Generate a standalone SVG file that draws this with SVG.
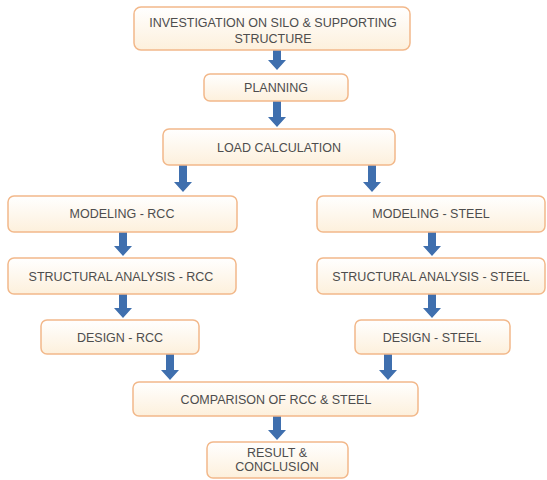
<svg xmlns="http://www.w3.org/2000/svg" width="547" height="480" viewBox="0 0 547 480">
<defs>
<linearGradient id="bg" x1="0" y1="0" x2="0" y2="1">
<stop offset="0" stop-color="#ffffff"/>
<stop offset="1" stop-color="#fdf0dc"/>
</linearGradient>
<style>
.box{fill:url(#bg);stroke:#f2b88a;stroke-width:1.5}
.t{font-family:"Liberation Sans",Arial,sans-serif;font-size:12.5px;fill:#4d4d4d;text-anchor:middle}
.arr{fill:#3f6fae}
</style>
</defs>
<rect width="547" height="480" fill="#ffffff"/>
<g id="connectors">
<path class="arr" d="M273,50 h8 v10 h5 l-9,10 l-9,-10 h5 z"/>
<path class="arr" d="M273,101 h8 v16 h5 l-9,10 l-9,-10 h5 z"/>
<path class="arr" d="M179,165 h8 v17 h5 l-9,10 l-9,-10 h5 z"/>
<path class="arr" d="M368,165 h8 v17 h5 l-9,10 l-9,-10 h5 z"/>
<path class="arr" d="M119,232 h8 v14 h5 l-9,10 l-9,-10 h5 z"/>
<path class="arr" d="M428,232 h8 v14 h5 l-9,10 l-9,-10 h5 z"/>
<path class="arr" d="M119,294 h8 v14 h5 l-9,10 l-9,-10 h5 z"/>
<path class="arr" d="M428,294 h8 v14 h5 l-9,10 l-9,-10 h5 z"/>
<path class="arr" d="M166,354 h8 v16 h5 l-9,10 l-9,-10 h5 z"/>
<path class="arr" d="M384,354 h8 v16 h5 l-9,10 l-9,-10 h5 z"/>
<path class="arr" d="M273,416 h8 v14 h5 l-9,10 l-9,-10 h5 z"/>
</g>
<g id="n1"><rect class="box" x="134" y="7" width="276" height="43" rx="7"/><text class="t" x="273" y="27">INVESTIGATION ON SILO &amp; SUPPORTING</text><text class="t" x="273" y="43">STRUCTURE</text></g>
<g id="n2"><rect class="box" x="204" y="74" width="144" height="27" rx="6"/><text class="t" x="276" y="92">PLANNING</text></g>
<g id="n3"><rect class="box" x="163" y="129" width="232" height="36" rx="6"/><text class="t" x="279" y="152">LOAD CALCULATION</text></g>
<g id="n4"><rect class="box" x="8" y="196" width="229" height="36" rx="6"/><text class="t" x="122" y="218">MODELING - RCC</text></g>
<g id="n5"><rect class="box" x="317" y="196" width="228" height="36" rx="6"/><text class="t" x="431" y="218">MODELING - STEEL</text></g>
<g id="n6"><rect class="box" x="8" y="258" width="228" height="36" rx="6"/><text class="t" x="121" y="281">STRUCTURAL ANALYSIS - RCC</text></g>
<g id="n7"><rect class="box" x="317" y="258" width="228" height="36" rx="6"/><text class="t" x="431" y="281">STRUCTURAL ANALYSIS - STEEL</text></g>
<g id="n8"><rect class="box" x="41" y="320" width="158" height="34" rx="6"/><text class="t" x="120" y="342">DESIGN - RCC</text></g>
<g id="n9"><rect class="box" x="355" y="320" width="155" height="34" rx="6"/><text class="t" x="432" y="342">DESIGN - STEEL</text></g>
<g id="n10"><rect class="box" x="133" y="382" width="285" height="34" rx="6"/><text class="t" x="276" y="404">COMPARISON OF RCC &amp; STEEL</text></g>
<g id="n11"><rect class="box" x="207" y="442" width="141" height="36" rx="6"/><text class="t" x="277" y="457">RESULT &amp;</text><text class="t" x="277" y="471">CONCLUSION</text></g>
</svg>
